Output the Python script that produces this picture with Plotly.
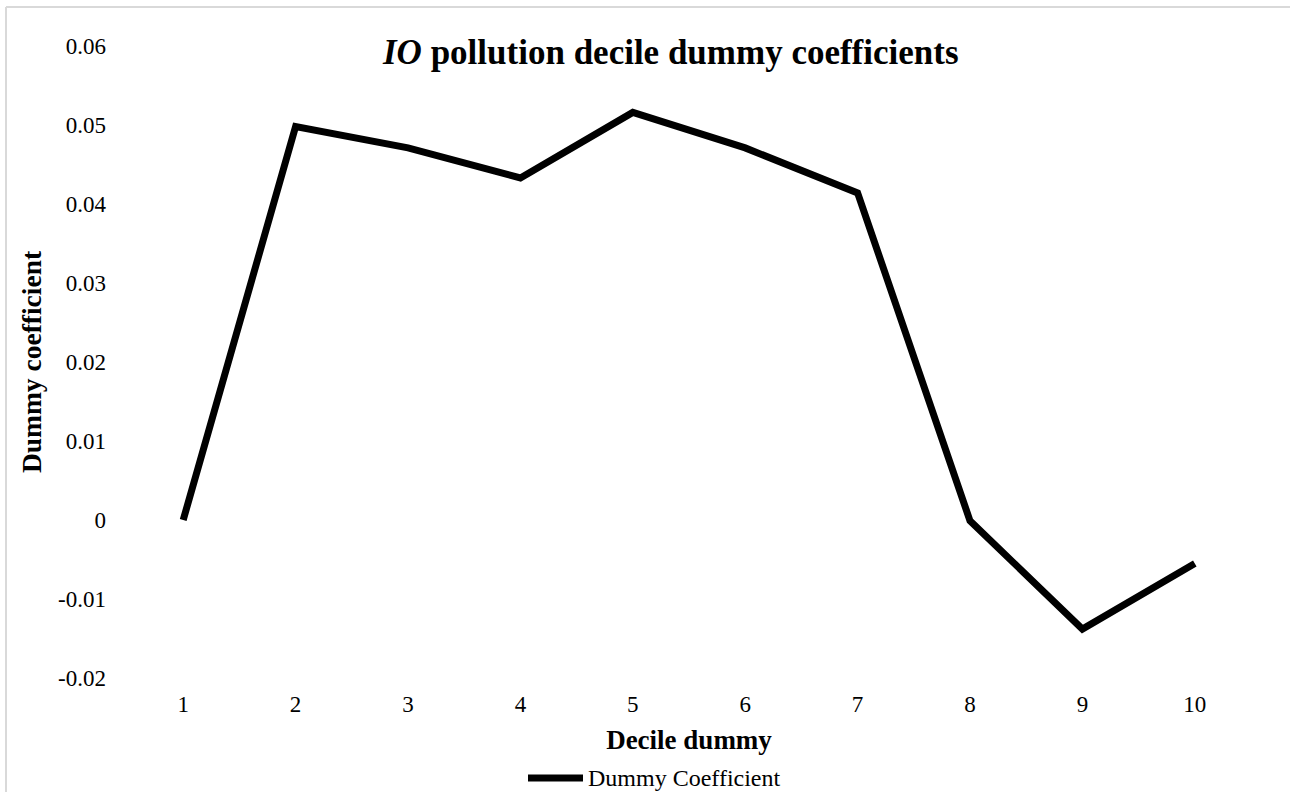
import plotly.graph_objects as go

deciles = [1, 2, 3, 4, 5, 6, 7, 8, 9, 10]
coefficients = [0.0, 0.0498, 0.0471, 0.0433, 0.0516, 0.0471, 0.0414, -0.0001, -0.0138, -0.0055]
y_ticks = [-0.02, -0.01, 0, 0.01, 0.02, 0.03, 0.04, 0.05, 0.06]
y_tick_labels = ["-0.02", "-0.01", "0", "0.01", "0.02", "0.03", "0.04", "0.05", "0.06"]
series_name = "Dummy Coefficient"

FONT = "Liberation Serif"
W, H = 1290, 792
L, R, T, B = 127, 39, 46, 114
pw, ph = W - L - R, H - T - B


def px_x(x):
    return (x - L) / pw


def px_y(y):
    return 1 - (y - T) / ph


fig = go.Figure()
fig.add_trace(go.Scatter(
    x=deciles, y=coefficients, mode="lines", name=series_name,
    line=dict(color="black", width=7), cliponaxis=False, showlegend=False,
))

fig.update_layout(
    width=W, height=H,
    margin=dict(l=L, r=R, t=T, b=B, autoexpand=False),
    paper_bgcolor="white", plot_bgcolor="white",
    font=dict(family=FONT, size=23, color="black"),
    showlegend=False,
    xaxis=dict(range=[0.5, 10.5], tickmode="array", tickvals=deciles,
               ticktext=[str(d) for d in deciles], showgrid=False, zeroline=False,
               showline=False, ticks="", tickfont=dict(size=23), ticklabelstandoff=10,
               title=dict(text="<b>Decile dummy</b>", font=dict(size=27), standoff=14)),
    yaxis=dict(range=[-0.02, 0.06], tickmode="array", tickvals=y_ticks,
               ticktext=y_tick_labels, showgrid=False, zeroline=False, showline=False,
               ticks="", ticklabelstandoff=20, tickfont=dict(size=23),
               title=dict(text="<b>Dummy coefficient</b>", font=dict(size=27.5), standoff=8)),
)

# Title
fig.add_annotation(
    text="<b><i>IO</i> pollution decile dummy coefficients</b>",
    xref="paper", yref="paper", x=px_x(670), y=px_y(52),
    xanchor="center", yanchor="middle", showarrow=False,
    font=dict(family=FONT, size=35, color="black"),
)

# Legend (Excel-style: long line key followed by text)
fig.add_shape(type="line", xref="paper", yref="paper",
              x0=px_x(528), x1=px_x(583), y0=px_y(778), y1=px_y(778),
              line=dict(color="black", width=7))
fig.add_annotation(
    text=series_name, xref="paper", yref="paper", x=px_x(586), y=px_y(778),
    xanchor="left", yanchor="middle", showarrow=False,
    font=dict(family=FONT, size=24, color="black"),
)

# Chart area border (left and top edges visible)
fig.add_shape(type="line", xref="paper", yref="paper",
              x0=px_x(6), x1=px_x(6), y0=px_y(800), y1=px_y(7),
              line=dict(color="#d9d9d9", width=2), layer="below")
fig.add_shape(type="line", xref="paper", yref="paper",
              x0=px_x(6), x1=px_x(1300), y0=px_y(7), y1=px_y(7),
              line=dict(color="#d9d9d9", width=2), layer="below")

fig.write_html("out.html", config={"displayModeBar": False},
               post_script="document.body.style.margin='0';"
                           "document.body.style.overflow='hidden';"
                           "document.documentElement.style.overflow='hidden';")
